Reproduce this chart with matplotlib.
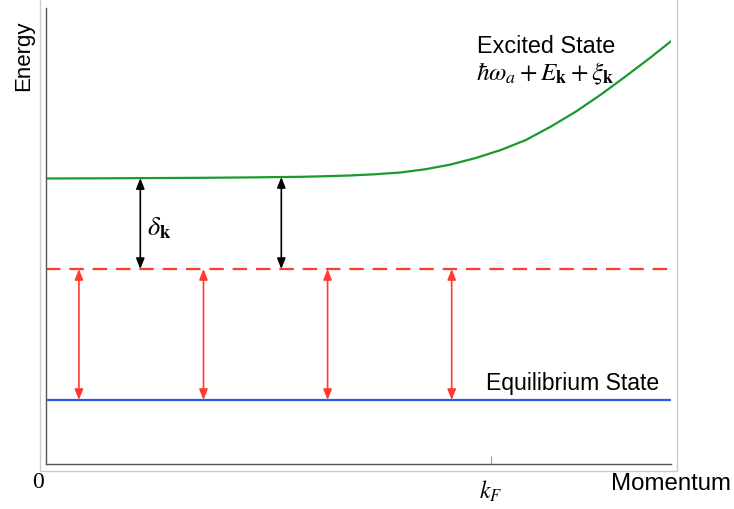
import matplotlib
matplotlib.use("Agg")
import matplotlib.pyplot as plt
from matplotlib.patches import Rectangle
import numpy as np

# ---- data (momentum in units of k_F, energy in arbitrary units) ----
k_excited = [0.0, 0.1216, 0.2342, 0.3468, 0.4595, 0.5721, 0.6284, 0.6847, 0.7410,
             0.7973, 0.8536, 0.9099, 0.9662, 1.0225, 1.0788, 1.1351, 1.1914,
             1.2477, 1.3041, 1.3604, 1.4054]
E_excited = [6.261, 6.265, 6.270, 6.276, 6.285, 6.298, 6.311, 6.327, 6.355,
             6.393, 6.465, 6.568, 6.711, 6.886, 7.105, 7.401, 7.730,
             8.103, 8.509, 8.925, 9.276]
E_detuned = 4.276
E_equilibrium = 1.404
k_max = 1.405
k_F = 1.0
k_black_arrows = [0.212, 0.529]
k_red_arrows = [0.074, 0.354, 0.633, 0.912]

plt.rcParams['mathtext.fontset'] = 'stix'
sans = ['Liberation Sans', 'DejaVu Sans']

W, H = 734, 510
fig = plt.figure(figsize=(W / 100, H / 100), dpi=100)
ax = fig.add_axes([46 / W, (H - 465) / H, 625 / W, 456 / H])

# light frame around the plot
fig.patches.append(Rectangle((40 / W, (H - 472) / H), 637 / W, 472 / H + 0.01,
                             transform=fig.transFigure, fill=False,
                             edgecolor='#cccccc', lw=1.0))

green = '#1a9a2e'
red = '#ff3b30'
blue = '#2a5ae0'

ax.plot(k_excited, E_excited, color=green, lw=1.6, solid_capstyle='butt',
        solid_joinstyle='round')
ax.plot([0, k_max], [E_detuned, E_detuned], color=red, lw=1.6,
        dashes=(6.5, 4))
ax.plot([0, k_max], [E_equilibrium, E_equilibrium], color=blue, lw=1.6)

for k in k_black_arrows:
    top = float(np.interp(k, k_excited, E_excited))
    ax.annotate('', xy=(k, top), xytext=(k, E_detuned),
                arrowprops=dict(arrowstyle='<|-|>,head_length=0.45,head_width=0.18',
                                color='black', lw=1.2, shrinkA=0, shrinkB=0,
                                mutation_scale=14))
for k in k_red_arrows:
    ax.annotate('', xy=(k, E_detuned), xytext=(k, E_equilibrium),
                arrowprops=dict(arrowstyle='<|-|>,head_length=0.45,head_width=0.18',
                                color=red, lw=1.2, shrinkA=0, shrinkB=0,
                                mutation_scale=14))

ax.set_xlim(0, k_max)
ax.set_ylim(0, 10)
for s in ['top', 'right']:
    ax.spines[s].set_visible(False)
for s in ['left', 'bottom']:
    ax.spines[s].set_color('#555555')
    ax.spines[s].set_linewidth(1.0)
ax.set_yticks([])
ax.set_xticks([k_F])
ax.set_xticklabels([''])
ax.tick_params(axis='x', direction='in', length=6, color='#999999')

# texts
ax.text((545 - 46) / 444, (465 - 47) / 45.6, 'Excited State',
        ha='center', va='center', fontsize=16.8, family=sans)
ax.text((544 - 46) / 444, (465 - 74) / 45.6,
        r'$\hbar\omega_a + E_{\mathbf{k}} + \xi_{\mathbf{k}}$',
        ha='center', va='center', fontsize=18.2)
ax.text((572 - 46) / 444, (465 - 384) / 45.6, 'Equilibrium State',
        ha='center', va='center', fontsize=16.6, family=sans)
ax.text((159 - 46) / 444, (465 - 228) / 45.6, r'$\delta_{\mathbf{k}}$',
        ha='center', va='center', fontsize=19)

fig.text(38 / W, 1 - 483 / H, '0', ha='center', va='center', fontsize=17,
         family='serif', fontname='Liberation Serif')
fig.text(491 / W, 1 - 491 / H, r'$k_F$', ha='center', va='center', fontsize=17)
fig.text(731 / W, 1 - 484 / H, 'Momentum', ha='right', va='center',
         fontsize=17.3, family=sans)
fig.text(24 / W, 1 - 56 / H, 'Energy', ha='center', va='center', rotation=90,
         fontsize=16, family=sans)

fig.savefig('out.png', dpi=100)
